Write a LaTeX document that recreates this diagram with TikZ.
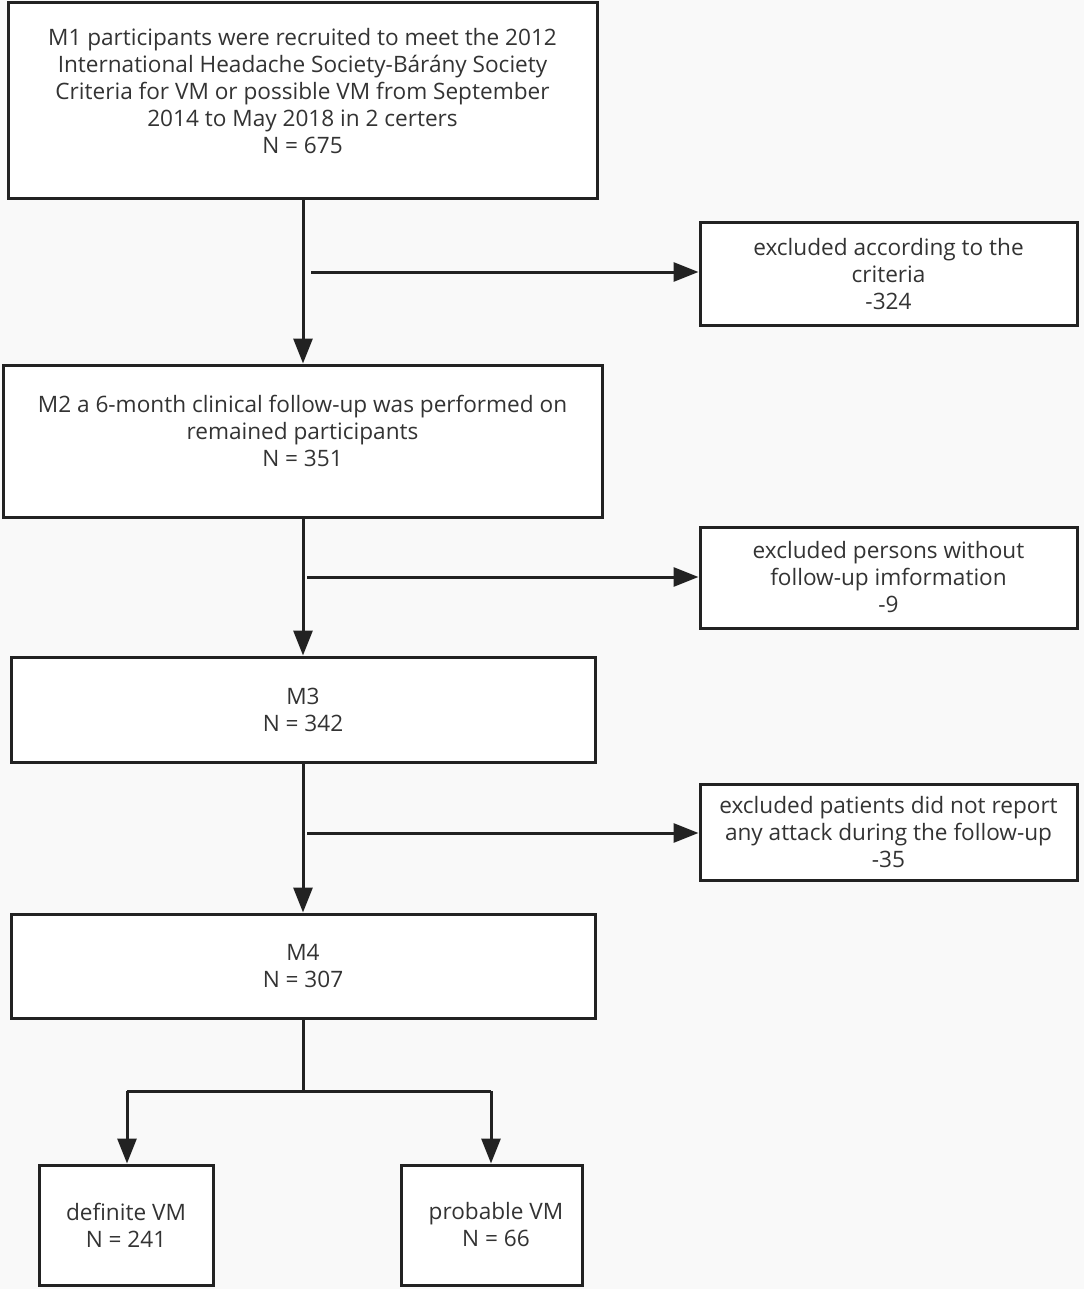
\documentclass[tikz,border=0pt]{standalone}
\usepackage{fontspec}
\setmainfont{Open Sans}
\usetikzlibrary{arrows.meta}
\definecolor{bgc}{HTML}{F9F9F9}
\definecolor{linec}{HTML}{222222}
\definecolor{txtc}{HTML}{333333}
\tikzset{
  box/.style={draw=linec, line width=3pt, fill=white, rectangle, inner sep=0pt,
    align=center, text=txtc, font=\fontsize{22.6}{27}\selectfont},
  arr/.style={draw=linec, line width=3pt, -{Triangle[width=19pt,length=25pt]}},
  ln/.style={draw=linec, line width=3pt},
}
\begin{document}
\begin{tikzpicture}[x=1pt,y=-1pt]
\fill[bgc] (0,0) rectangle (1084,1289);
\useasboundingbox (0,0) rectangle (1084,1289);
% main boxes
\node[box, minimum width=589pt, minimum height=196pt] (m1) at (302.5,101)
  {M1 participants were recruited to meet the 2012\\International Headache Society-Bárány Society\\Criteria for VM or possible VM from September\\2014 to May 2018 in 2 certers\\N = 675\\[-6pt]\mbox{}};
\node[box, minimum width=599pt, minimum height=152pt] (m2) at (302.5,441)
  {M2 a 6-month clinical follow-up was performed on\\remained participants\\N = 351\\[-6pt]\mbox{}};
\node[box, minimum width=584pt, minimum height=105pt] (m3) at (303,709.5)
  {M3\\N = 342};
\node[box, minimum width=584pt, minimum height=104pt] (m4) at (303,966)
  {M4\\N = 307};
\node[box, minimum width=174pt, minimum height=120pt] (d) at (126,1225)
  {definite VM\\N = 241};
\node[box, minimum width=181pt, minimum height=120pt] (p) at (491.5,1225)
  {\hspace*{9pt}probable VM\\\hspace*{9pt}N = 66};
% exclusion boxes
\node[box, minimum width=377pt, minimum height=102pt] (e1) at (888.5,274)
  {excluded according to the\\criteria\\-324};
\node[box, minimum width=377pt, minimum height=101pt] (e2) at (888.5,577.5)
  {excluded persons without\\follow-up imformation\\-9};
\node[box, minimum width=377pt, minimum height=96pt] (e3) at (888.5,832)
  {excluded patients did not report\\any attack during the follow-up\\-35};
% coordinates
\coordinate (s1) at (311,272);
\coordinate (s2) at (307,577);
\coordinate (s3) at (307,833);
\coordinate (br) at (303,1091);
\coordinate (bl) at (127,1091);
\coordinate (brr) at (491,1091);
% connectors
\draw[arr] (m1.south -| 303,0) -- (m2.north -| 303,0);
\draw[arr] (s1) -- (e1.west |- s1);
\draw[arr] (m2.south -| 303,0) -- (m3.north -| 303,0);
\draw[arr] (s2) -- (e2.west |- s2);
\draw[arr] (m3.south) -- (m4.north);
\draw[arr] (s3) -- (e3.west |- s3);
\draw[ln] (m4.south) -- (br);
\draw[ln] (bl) -- (brr);
\draw[arr] (bl) -- (d.north -| bl);
\draw[arr] (brr) -- (p.north -| brr);
\end{tikzpicture}
\end{document}
